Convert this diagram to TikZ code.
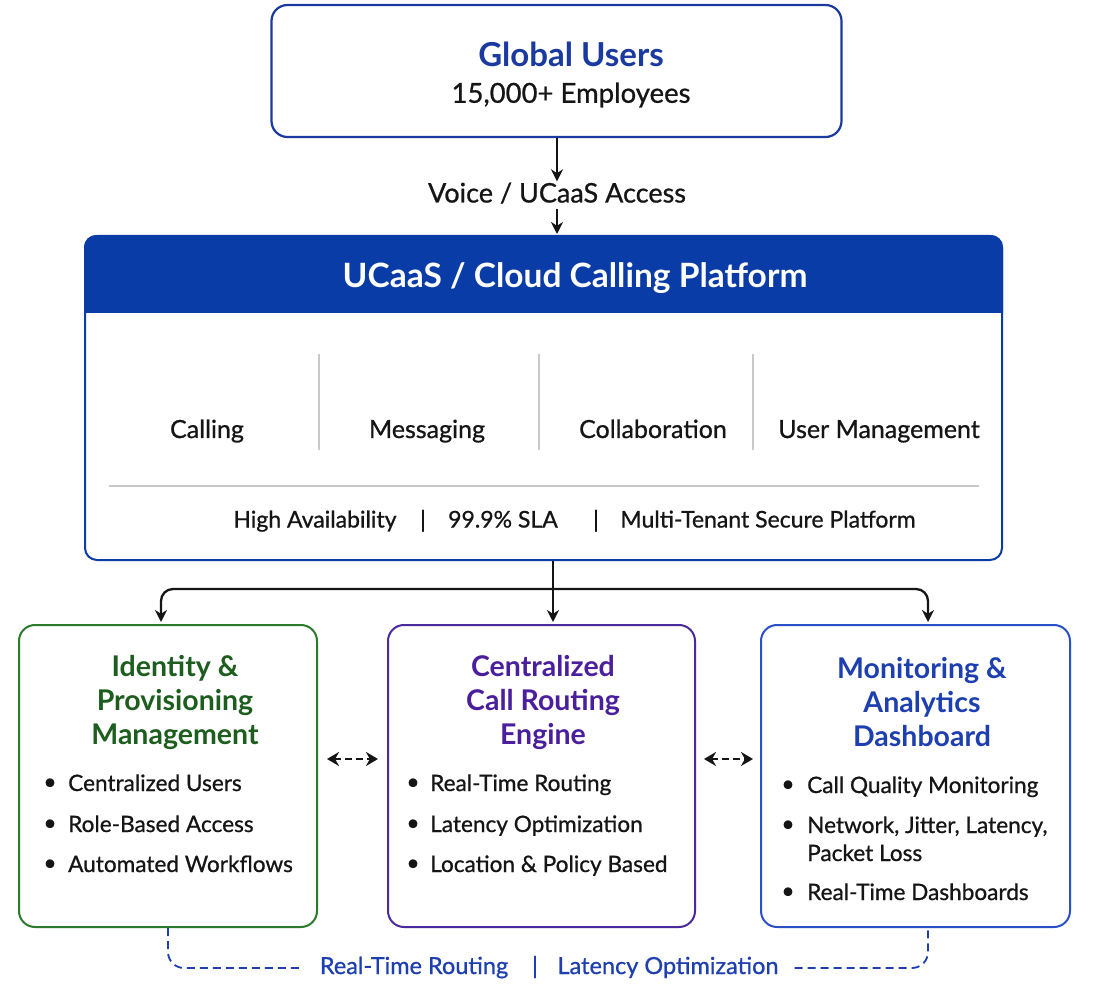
\documentclass[tikz,border=0pt]{standalone}
\usepackage{fontspec}
\setmainfont{Lato}[UprightFeatures={FakeBold=0.8}]
\usetikzlibrary{arrows.meta}
\definecolor{navy}{HTML}{1B3A9F}
\definecolor{hdr}{HTML}{0A3CA8}
\definecolor{grn}{HTML}{1D5E1F}
\definecolor{grnb}{HTML}{2C7A2C}
\definecolor{prp}{HTML}{4A1E9C}
\definecolor{prpb}{HTML}{4B2A9E}
\definecolor{rblu}{HTML}{1D3FAF}
\definecolor{rblub}{HTML}{2A50C8}
\definecolor{lblue}{HTML}{1E3FAF}
\definecolor{divg}{HTML}{C8C8C8}
\definecolor{ink}{HTML}{151515}
\tikzset{
  card/.style={draw, line width=2pt, rounded corners=16pt, fill=white, inner sep=0pt},
  arr/.style={line width=2.3pt, draw=ink, -{Stealth[length=12pt,width=12pt]}, shorten >=2pt},
  plain/.style={line width=2.3pt, draw=ink},
  darr/.style={line width=2.6pt, draw=ink, dash pattern=on 7pt off 4pt, {Stealth[length=12pt,width=14pt]}-{Stealth[length=12pt,width=14pt]}},
  bdash/.style={draw=lblue, line width=1.8pt, dash pattern=on 8pt off 5pt},
  tx/.style={inner sep=0pt, text=ink},
  ttl/.style={font=\bfseries\fontsize{28.5}{34}\selectfont, align=center, inner sep=0pt},
  itm/.style={font=\fontsize{22.6}{27}\selectfont, text=ink, anchor=west, inner sep=0pt, text height=17pt, text depth=3pt},
  bul/.style={font=\fontsize{22.6}{27}\selectfont, text=ink, inner sep=0pt},
  lab/.style={font=\fontsize{25}{29}\selectfont, text=ink, inner sep=0pt, text height=17pt, text depth=5pt},
  sumt/.style={font=\fontsize{23}{27}\selectfont, text=ink, inner sep=0pt, text height=16pt, text depth=5pt},
  btm/.style={font=\fontsize{23.5}{27}\selectfont, text=lblue, inner sep=0pt, text height=17pt, text depth=5pt},
}
\begin{document}
\begin{tikzpicture}[x=1pt,y=-1pt]
\useasboundingbox[fill=white] (0,0) rectangle (1096,984);

% top box
\node[card, draw=navy, line width=2.2pt, minimum width=570pt, minimum height=132pt] (top) at (556.5,71) {};
\node[tx, font=\bfseries\fontsize{33}{38}\selectfont, text=navy] (gu) at (571,54) {Global Users};
\node[tx, font=\fontsize{27.5}{32}\selectfont] (emp) at (571,95) {15,000+ Employees};

% voice label
\node[tx, font=\fontsize{27}{32}\selectfont, text height=19pt, text depth=6pt] (voice) at (557,196) {Voice / UCaaS Access};

% platform
\node[card, draw=hdr, rounded corners=12pt, minimum width=917pt, minimum height=324pt] (plat) at (543.5,398) {};
\begin{scope}
  \clip[rounded corners=12pt] (plat.south west) rectangle (plat.north east);
  \fill[hdr] (plat.north west) rectangle (1010,313);
\end{scope}
\node[tx, font=\bfseries\fontsize{33.5}{38}\selectfont, text=white] (ptitle) at (575,278) {UCaaS / Cloud Calling Platform};

\draw[divg, line width=1.5pt] (319,354) -- (319,450);
\draw[divg, line width=1.5pt] (539,354) -- (539,450);
\draw[divg, line width=1.5pt] (753,354) -- (753,450);
\draw[divg, line width=1.5pt] (109,486) -- (979,486);

\node[lab] (c1) at (207,432) {Calling};
\node[lab] (c2) at (427,432) {Messaging};
\node[lab] (c3) at (653,432) {Collaboration};
\node[lab] (c4) at (879,432) {User Management};

\node[sumt] (s1) at (315,522) {High Availability};
\node[sumt] (s2) at (423,522) {|};
\node[sumt] (s3) at (503,522) {99.9\% SLA};
\node[sumt] (s4) at (596,522) {|};
\node[sumt] (s5) at (768,522) {Multi-Tenant Secure Platform};

% bottom cards
\node[card, draw=grnb, minimum width=298pt, minimum height=302pt] (left) at (168,776) {};
\node[card, draw=prpb, minimum width=307pt, minimum height=302pt] (mid) at (541.5,776) {};
\node[card, draw=rblub, minimum width=309pt, minimum height=302pt] (right) at (915.5,776) {};

\node[ttl, text=grn] (lt) at (175,702) {Identity \&\\Provisioning\\Management};
\node[ttl, text=prp] (mt) at (543,702) {Centralized\\Call Routing\\Engine};
\node[ttl, text=rblu] (rt) at (922,702) {Monitoring \&\\Analytics\\Dashboard};

\node[bul] (lb1) at (50,784) {\textbullet};
\node[itm] (li1) at (68,784) {Centralized Users};
\node[bul] (lb2) at (50,825) {\textbullet};
\node[itm] (li2) at (68,825) {Role-Based Access};
\node[bul] (lb3) at (50,865) {\textbullet};
\node[itm] (li3) at (68,865) {Automated Workflows};

\node[bul] (mb1) at (413,784) {\textbullet};
\node[itm] (mi1) at (430,784) {Real-Time Routing};
\node[bul] (mb2) at (413,825) {\textbullet};
\node[itm] (mi2) at (430,825) {Latency Optimization};
\node[bul] (mb3) at (413,865) {\textbullet};
\node[itm] (mi3) at (430,865) {Location \& Policy Based};

\node[bul] (rb1) at (788,786) {\textbullet};
\node[itm] (ri1) at (807,786) {Call Quality Monitoring};
\node[bul] (rb2) at (788,826) {\textbullet};
\node[itm] (ri2) at (807,826) {Network, Jitter, Latency,};
\node[itm] (ri2b) at (807,854) {Packet Loss};
\node[bul] (rb3) at (788,893) {\textbullet};
\node[itm] (ri3) at (807,893) {Real-Time Dashboards};

% bottom labels
\node[btm] (rtr) at (414,968) {Real-Time Routing};
\node[btm] (bbar) at (535,968) {|};
\node[btm] (lat) at (668,968) {Latency Optimization};

% connectors
\draw[arr] (top.south -| voice.north) -- (voice.north);
\draw[arr, shorten >=1pt] (voice.south) -- (voice.south |- plat.north);

\coordinate (jn) at ([xshift=9.5pt, yshift=-28pt]plat.south);
\draw[plain] ([xshift=9.5pt]plat.south) -- (jn);
\draw[arr] (jn) -- ([xshift=11.5pt]mid.north);
\draw[arr, rounded corners=12pt] (jn) -| ([xshift=-7pt]left.north);
\draw[arr, rounded corners=12pt] (jn) -| ([xshift=12.5pt]right.north);

\draw[darr] ([shift={(9,-17)}]left.east) -- ([shift={(-9,-17)}]mid.west);
\draw[darr] ([shift={(8,-17)}]mid.east) -- ([shift={(-7,-17)}]right.west);

\draw[bdash, rounded corners=16pt] (left.south) |- ([xshift=-16pt]rtr.west);
\draw[bdash, rounded corners=16pt] ([xshift=16pt]lat.east) -| ([xshift=12.5pt]right.south);
\end{tikzpicture}
\end{document}
